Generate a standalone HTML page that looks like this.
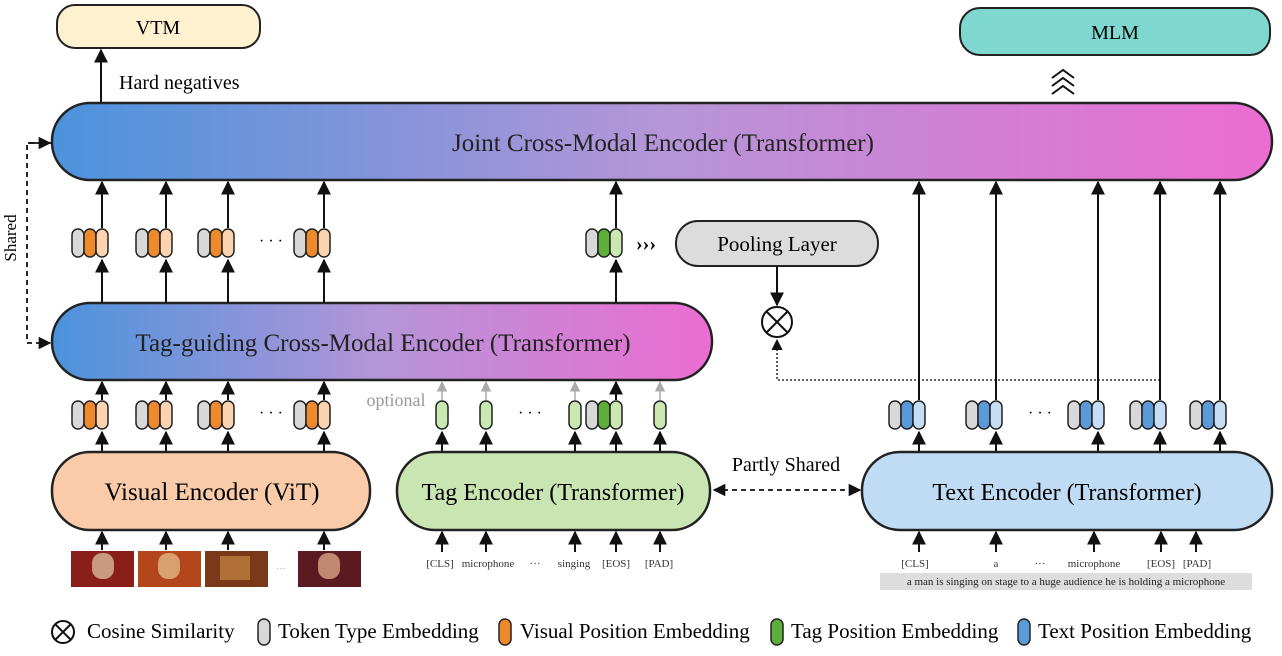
<!DOCTYPE html>
<html><head><meta charset="utf-8"><style>
body{margin:0;background:#fff}
svg{display:block;font-family:"Liberation Serif",serif}
</style></head><body>
<svg width="1282" height="656" viewBox="0 0 1282 656" xmlns="http://www.w3.org/2000/svg">
<defs>
<linearGradient id="g" x1="0" x2="1" y1="0" y2="0"><stop offset="0" stop-color="#4b93dc"/><stop offset="0.5" stop-color="#b595d8"/><stop offset="1" stop-color="#ec6cd2"/></linearGradient>
<marker id="a" viewBox="0 0 10 10" refX="9" refY="5" markerWidth="7" markerHeight="7" orient="auto-start-reverse"><path d="M0,0 L10,5 L0,10 z" fill="#111"/></marker>
<marker id="ag" viewBox="0 0 10 10" refX="9" refY="5" markerWidth="7" markerHeight="7" orient="auto"><path d="M0,0 L10,5 L0,10 z" fill="#aaa"/></marker>
<g id="tv"><rect x="0" y="0" width="12" height="28" rx="6" fill="#d8d8d8" stroke="#222" stroke-width="1.5"/><rect x="12" y="0" width="12" height="28" rx="6" fill="#ef8a2c" stroke="#222" stroke-width="1.5"/><rect x="24" y="0" width="12" height="28" rx="6" fill="#fbd3b0" stroke="#222" stroke-width="1.5"/></g>
<g id="tt"><rect x="0" y="0" width="12" height="28" rx="6" fill="#d8d8d8" stroke="#222" stroke-width="1.5"/><rect x="12" y="0" width="12" height="28" rx="6" fill="#5fae3a" stroke="#222" stroke-width="1.5"/><rect x="24" y="0" width="12" height="28" rx="6" fill="#c9e8b2" stroke="#222" stroke-width="1.5"/></g>
<g id="tx"><rect x="0" y="0" width="12" height="28" rx="6" fill="#d8d8d8" stroke="#222" stroke-width="1.5"/><rect x="12" y="0" width="12" height="28" rx="6" fill="#5a9ad8" stroke="#222" stroke-width="1.5"/><rect x="24" y="0" width="12" height="28" rx="6" fill="#c5def5" stroke="#222" stroke-width="1.5"/></g>
<g id="pg"><rect x="0" y="0" width="12" height="28" rx="6" fill="#c9e8b2" stroke="#222" stroke-width="1.5"/></g>
</defs>

<rect x="57" y="5" width="203" height="43" rx="18" fill="#fdf1cf" stroke="#222" stroke-width="2"/>
<text x="158" y="34" font-size="20" text-anchor="middle">VTM</text>
<rect x="960" y="8" width="310" height="47" rx="20" fill="#7fd8cf" stroke="#222" stroke-width="2"/>
<text x="1115" y="39" font-size="20" text-anchor="middle">MLM</text>
<path d="M1052,78 L1063,70 L1074,78 M1052,86 L1063,78 L1074,86 M1052,94 L1063,86 L1074,94" fill="none" stroke="#111" stroke-width="2"/>
<line x1="101" y1="103" x2="101" y2="50" stroke="#111" stroke-width="2" marker-end="url(#a)"/>
<text x="119" y="89" font-size="20">Hard negatives</text>

<rect x="52" y="103" width="1220" height="77" rx="38" fill="url(#g)" stroke="#222" stroke-width="2.5"/>
<text x="663" y="151" font-size="25" text-anchor="middle" fill="#222">Joint Cross-Modal Encoder (Transformer)</text>

<rect x="52" y="303" width="660" height="77" rx="38" fill="url(#g)" stroke="#222" stroke-width="2.5"/>
<text x="383" y="351" font-size="25" text-anchor="middle" fill="#222">Tag-guiding Cross-Modal Encoder (Transformer)</text>

<path d="M52,143 L27,143 L27,343 L50,343" fill="none" stroke="#111" stroke-width="1.8" stroke-dasharray="5,4" marker-end="url(#a)"/>
<line x1="28" y1="143" x2="50" y2="143" stroke="#111" stroke-width="1.8" marker-end="url(#a)"/>
<text x="16" y="238" font-size="17" text-anchor="middle" transform="rotate(-90 16 238)">Shared</text>

<g stroke="#111" stroke-width="2" fill="none">
<line x1="102" y1="303" x2="102" y2="260" marker-end="url(#a)"/><line x1="102" y1="228" x2="102" y2="182" marker-end="url(#a)"/>
<line x1="166" y1="303" x2="166" y2="260" marker-end="url(#a)"/><line x1="166" y1="228" x2="166" y2="182" marker-end="url(#a)"/>
<line x1="228" y1="303" x2="228" y2="260" marker-end="url(#a)"/><line x1="228" y1="228" x2="228" y2="182" marker-end="url(#a)"/>
<line x1="324" y1="303" x2="324" y2="260" marker-end="url(#a)"/><line x1="324" y1="228" x2="324" y2="182" marker-end="url(#a)"/>
<line x1="616" y1="303" x2="616" y2="260" marker-end="url(#a)"/><line x1="616" y1="228" x2="616" y2="182" marker-end="url(#a)"/>
</g>
<use href="#tv" x="72" y="229"/><use href="#tv" x="136" y="229"/><use href="#tv" x="198" y="229"/><use href="#tv" x="294" y="229"/>
<text x="271" y="246" font-size="16" text-anchor="middle">· · ·</text>
<use href="#tt" x="586" y="229"/>
<text x="636" y="250" font-size="20" font-weight="bold">›››</text>

<rect x="676" y="221" width="202" height="45" rx="22" fill="#dcdcdc" stroke="#222" stroke-width="2"/>
<text x="777" y="251" font-size="21" text-anchor="middle">Pooling Layer</text>
<line x1="777" y1="266" x2="777" y2="305" stroke="#111" stroke-width="2" marker-end="url(#a)"/>
<circle cx="777" cy="322" r="15" fill="#fff" stroke="#111" stroke-width="2"/>
<path d="M766,311 L788,333 M788,311 L766,333" stroke="#111" stroke-width="2"/>
<path d="M1160,380 L777,380 L777,340" fill="none" stroke="#333" stroke-width="1.6" stroke-dasharray="2,2" marker-end="url(#a)"/>

<g stroke="#111" stroke-width="2" fill="none">
<line x1="102" y1="452" x2="102" y2="432" marker-end="url(#a)"/><line x1="102" y1="400" x2="102" y2="382" marker-end="url(#a)"/>
<line x1="166" y1="452" x2="166" y2="432" marker-end="url(#a)"/><line x1="166" y1="400" x2="166" y2="382" marker-end="url(#a)"/>
<line x1="228" y1="452" x2="228" y2="432" marker-end="url(#a)"/><line x1="228" y1="400" x2="228" y2="382" marker-end="url(#a)"/>
<line x1="324" y1="452" x2="324" y2="432" marker-end="url(#a)"/><line x1="324" y1="400" x2="324" y2="382" marker-end="url(#a)"/>
<line x1="616" y1="452" x2="616" y2="432" marker-end="url(#a)"/><line x1="616" y1="400" x2="616" y2="382" marker-end="url(#a)"/>
<line x1="442" y1="452" x2="442" y2="432" marker-end="url(#a)"/><line x1="486" y1="452" x2="486" y2="432" marker-end="url(#a)"/>
<line x1="575" y1="452" x2="575" y2="432" marker-end="url(#a)"/><line x1="660" y1="452" x2="660" y2="432" marker-end="url(#a)"/>
</g>
<g stroke="#aaa" stroke-width="1.5">
<line x1="442" y1="400" x2="442" y2="382" marker-end="url(#ag)"/><line x1="486" y1="400" x2="486" y2="382" marker-end="url(#ag)"/>
<line x1="575" y1="400" x2="575" y2="382" marker-end="url(#ag)"/><line x1="660" y1="400" x2="660" y2="382" marker-end="url(#ag)"/>
</g>
<use href="#tv" x="72" y="401"/><use href="#tv" x="136" y="401"/><use href="#tv" x="198" y="401"/><use href="#tv" x="294" y="401"/>
<text x="271" y="418" font-size="16" text-anchor="middle">· · ·</text>
<text x="396" y="406" font-size="18" fill="#999" text-anchor="middle">optional</text>
<use href="#pg" x="436" y="401"/><use href="#pg" x="480" y="401"/><use href="#pg" x="569" y="401"/><use href="#pg" x="654" y="401"/>
<use href="#tt" x="586" y="401"/>
<text x="530" y="418" font-size="16" text-anchor="middle">· · ·</text>

<g stroke="#111" stroke-width="2" fill="none">
<line x1="919" y1="400" x2="919" y2="182" marker-end="url(#a)"/><line x1="919" y1="452" x2="919" y2="432" marker-end="url(#a)"/>
<line x1="996" y1="400" x2="996" y2="182" marker-end="url(#a)"/><line x1="996" y1="452" x2="996" y2="432" marker-end="url(#a)"/>
<line x1="1098" y1="400" x2="1098" y2="182" marker-end="url(#a)"/><line x1="1098" y1="452" x2="1098" y2="432" marker-end="url(#a)"/>
<line x1="1160" y1="400" x2="1160" y2="182" marker-end="url(#a)"/><line x1="1160" y1="452" x2="1160" y2="432" marker-end="url(#a)"/>
<line x1="1220" y1="400" x2="1220" y2="182" marker-end="url(#a)"/><line x1="1220" y1="452" x2="1220" y2="432" marker-end="url(#a)"/>
</g>
<use href="#tx" x="889" y="401"/><use href="#tx" x="966" y="401"/><use href="#tx" x="1068" y="401"/><use href="#tx" x="1130" y="401"/><use href="#tx" x="1190" y="401"/>
<text x="1040" y="418" font-size="16" text-anchor="middle">· · ·</text>

<rect x="52" y="452" width="318" height="78" rx="38" fill="#f9cba8" stroke="#222" stroke-width="2.5"/>
<text x="212" y="500" font-size="25" text-anchor="middle">Visual Encoder (ViT)</text>
<rect x="397" y="452" width="313" height="78" rx="38" fill="#c9e6b2" stroke="#222" stroke-width="2.5"/>
<text x="553" y="500" font-size="24" text-anchor="middle">Tag Encoder (Transformer)</text>
<rect x="862" y="452" width="410" height="78" rx="38" fill="#c0dcf4" stroke="#222" stroke-width="2.5"/>
<text x="1067" y="500" font-size="24" text-anchor="middle">Text Encoder (Transformer)</text>
<line x1="714" y1="490" x2="860" y2="490" stroke="#111" stroke-width="1.8" stroke-dasharray="5,4" marker-start="url(#a)" marker-end="url(#a)"/>
<text x="786" y="471" font-size="20" text-anchor="middle">Partly Shared</text>

<g stroke="#111" stroke-width="2">
<line x1="102" y1="550" x2="102" y2="532" marker-end="url(#a)"/><line x1="166" y1="550" x2="166" y2="532" marker-end="url(#a)"/>
<line x1="228" y1="550" x2="228" y2="532" marker-end="url(#a)"/><line x1="324" y1="550" x2="324" y2="532" marker-end="url(#a)"/>
<line x1="442" y1="552" x2="442" y2="532" marker-end="url(#a)"/><line x1="486" y1="552" x2="486" y2="532" marker-end="url(#a)"/>
<line x1="575" y1="552" x2="575" y2="532" marker-end="url(#a)"/><line x1="616" y1="552" x2="616" y2="532" marker-end="url(#a)"/>
<line x1="660" y1="552" x2="660" y2="532" marker-end="url(#a)"/>
<line x1="919" y1="552" x2="919" y2="532" marker-end="url(#a)"/><line x1="996" y1="552" x2="996" y2="532" marker-end="url(#a)"/>
<line x1="1094" y1="552" x2="1094" y2="532" marker-end="url(#a)"/><line x1="1161" y1="552" x2="1161" y2="532" marker-end="url(#a)"/>
<line x1="1196" y1="552" x2="1196" y2="532" marker-end="url(#a)"/>
</g>
<rect x="71" y="551" width="63" height="36" fill="#8a1f1a"/><rect x="92" y="553" width="22" height="26" rx="10" fill="#c99a80"/>
<rect x="138" y="551" width="63" height="36" fill="#b4461c"/><rect x="158" y="553" width="22" height="26" rx="10" fill="#d8a070"/>
<rect x="205" y="551" width="63" height="36" fill="#7a3a1a"/><rect x="220" y="556" width="30" height="24" fill="#b07038"/>
<rect x="298" y="551" width="63" height="36" fill="#5a1a20"/><rect x="318" y="553" width="22" height="26" rx="10" fill="#c08870"/>
<text x="281" y="572" font-size="10" fill="#aaa" text-anchor="middle">···</text>
<g font-size="11" text-anchor="middle" fill="#333">
<text x="440" y="567">[CLS]</text><text x="488" y="567">microphone</text><text x="535" y="567">···</text>
<text x="574" y="567">singing</text><text x="616" y="567">[EOS]</text><text x="659" y="567">[PAD]</text>
<text x="915" y="567">[CLS]</text><text x="996" y="567">a</text><text x="1040" y="567">···</text>
<text x="1094" y="567">microphone</text><text x="1161" y="567">[EOS]</text><text x="1197" y="567">[PAD]</text>
</g>
<rect x="880" y="573" width="372" height="17" fill="#ddd"/>
<text x="1066" y="585" font-size="11" text-anchor="middle" fill="#222">a man is singing on stage to a huge audience he is holding a microphone</text>

<circle cx="63" cy="632" r="11" fill="#fff" stroke="#111" stroke-width="2"/>
<path d="M55,624 L71,640 M71,624 L55,640" stroke="#111" stroke-width="2"/>
<text x="87" y="638" font-size="21">Cosine Similarity</text>
<rect x="258" y="619" width="12" height="26" rx="6" fill="#d8d8d8" stroke="#222" stroke-width="1.5"/>
<text x="278" y="638" font-size="21">Token Type Embedding</text>
<rect x="499" y="619" width="12" height="26" rx="6" fill="#ef8a2c" stroke="#222" stroke-width="1.5"/>
<text x="520" y="638" font-size="21">Visual Position Embedding</text>
<rect x="771" y="619" width="12" height="26" rx="6" fill="#5fae3a" stroke="#222" stroke-width="1.5"/>
<text x="791" y="638" font-size="21">Tag Position Embedding</text>
<rect x="1018" y="619" width="12" height="26" rx="6" fill="#5a9ad8" stroke="#222" stroke-width="1.5"/>
<text x="1038" y="638" font-size="21">Text Position Embedding</text>
</svg>
</body></html>
